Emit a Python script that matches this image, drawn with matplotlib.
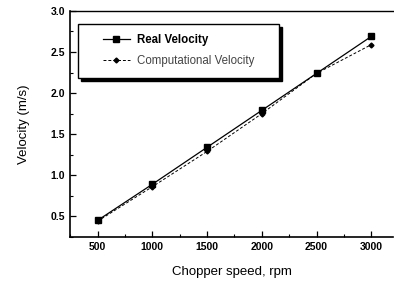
import matplotlib
matplotlib.use("Agg")
import matplotlib.pyplot as plt
from matplotlib.ticker import MultipleLocator
from matplotlib.patches import Rectangle

plt.rcParams['font.family'] = ['Liberation Sans', 'DejaVu Sans']

speed = [500, 1000, 1500, 2000, 2500, 3000]
real_velocity = [0.45, 0.89, 1.34, 1.79, 2.24, 2.69]
comp_velocity = [0.44, 0.86, 1.29, 1.75, 2.24, 2.59]

fig = plt.figure(figsize=(3.94, 2.81), dpi=100)
ax = fig.add_axes([0.178, 0.157, 0.82, 0.804])

ax.plot(speed, real_velocity, '-', color='black', lw=0.9, marker='s', ms=4,
        label='Real Velocity')
ax.plot(speed, comp_velocity, '--', color='black', lw=0.7, marker='D', ms=2.5,
        dashes=(3, 2), label='Computational Velocity')

ax.set_xlim(250, 3200)
ax.set_ylim(0.25, 3.0)
ax.set_xticks([500, 1000, 1500, 2000, 2500, 3000])
ax.set_yticks([0.5, 1.0, 1.5, 2.0, 2.5, 3.0])
ax.set_yticklabels(['0.5', '1.0', '1.5', '2.0', '2.5', '3.0'])
ax.xaxis.set_minor_locator(MultipleLocator(250))
ax.yaxis.set_minor_locator(MultipleLocator(0.25))
ax.tick_params(which='both', direction='in', top=False, right=False)
ax.tick_params(which='major', length=4, width=0.9, labelsize=7.5)
ax.tick_params(which='minor', length=2, width=0.8)
for lab in ax.get_xticklabels() + ax.get_yticklabels():
    lab.set_fontweight('bold')

for s in ['left', 'bottom']:
    ax.spines[s].set_linewidth(1.2)
ax.spines['top'].set_linewidth(1.0)
ax.spines['right'].set_visible(False)

ax.set_xlabel('Chopper speed, rpm', fontsize=9.5, labelpad=10)
ax.set_ylabel('Velocity (m/s)', fontsize=9.5, labelpad=15)

# legend frame with drop shadow
x0, y0, w, h = 0.0245, 0.704, 0.6225, 0.2385
ax.add_patch(Rectangle((x0 + 0.010, y0 - 0.015), w, h, transform=ax.transAxes,
                       facecolor='black', edgecolor='black', zorder=4,
                       clip_on=False))
ax.add_patch(Rectangle((x0, y0), w, h, transform=ax.transAxes,
                       facecolor='white', edgecolor='black', lw=1.0, zorder=5,
                       clip_on=False))

leg = ax.legend(loc='center left', bbox_to_anchor=(0.083, 0.825), frameon=False,
                fontsize=8.3, handlelength=2.35, borderpad=0, labelspacing=0.8,
                handletextpad=0.6)
leg.set_zorder(6)
texts = leg.get_texts()
texts[0].set_fontweight('bold')
texts[1].set_color('#444444')

fig.savefig('out.png', dpi=100)
